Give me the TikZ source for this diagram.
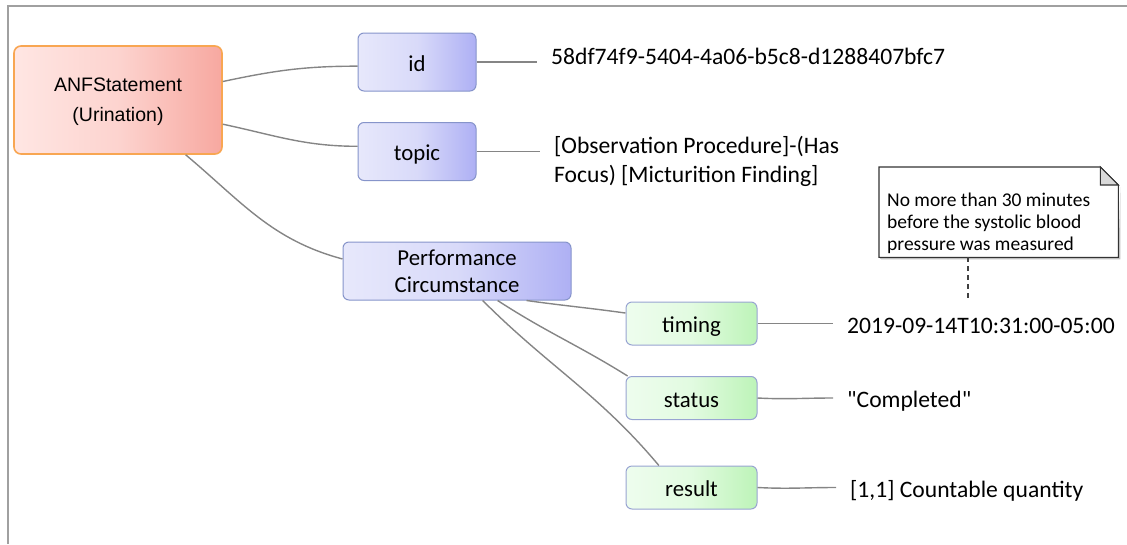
\documentclass[tikz,border=0pt]{standalone}
\usepackage{tikz}
\usepackage{fontspec}
\setmainfont{Carlito}
\newfontfamily\arialfont{Liberation Sans}
\newfontfamily\rawfont{Carlito}[Ligatures=TeXOff]
\usetikzlibrary{arrows.meta}
\definecolor{anfleft}{HTML}{FFE6E3}
\definecolor{anfright}{HTML}{F7A8A0}
\definecolor{anfedge}{HTML}{F8A652}
\definecolor{classleft}{HTML}{E7E8FB}
\definecolor{classright}{HTML}{AEB0F4}
\definecolor{classedge}{HTML}{8694CA}
\definecolor{attrleft}{HTML}{EEFDEE}
\definecolor{attrright}{HTML}{BDF4B8}
\definecolor{attredge}{HTML}{98A4D2}
\definecolor{linkgray}{HTML}{858585}
\definecolor{framegray}{HTML}{A0A0A0}
\definecolor{foldgray}{HTML}{D9D9D9}

\begin{document}
\begin{tikzpicture}[x=1pt, y=1pt,
    anfbox/.style={rectangle, rounded corners=7pt, draw=anfedge, line width=1.6pt,
      left color=anfleft, right color=anfright, middle color=anfleft!70!anfright,
      minimum width=208pt, minimum height=108pt, align=center, text depth=0pt,
      font=\arialfont\fontsize{19.5}{30}\selectfont},
    classbox/.style={rectangle, rounded corners=6pt, draw=classedge, line width=1pt,
      left color=classleft, right color=classright, middle color=classleft!75!classright,
      minimum height=58pt, align=center, font=\fontsize{22.8}{27}\selectfont},
    attrbox/.style={rectangle, rounded corners=6pt, draw=attredge, line width=1pt,
      left color=attrleft, right color=attrright, middle color=attrleft!75!attrright,
      minimum width=131pt, minimum height=43pt, oneline, font=\fontsize{22.8}{27}\selectfont},
    oneline/.style={text height=18pt, text depth=0pt},
    valtext/.style={anchor=base west, inner xsep=14pt, inner ysep=0pt, align=left,
      font=\fontsize{23.6}{29}\selectfont},
    notebox/.style={rectangle, minimum width=239pt, minimum height=90pt, inner sep=0pt},
    notetext/.style={anchor=base west, inner sep=0pt, align=left,
      font=\fontsize{19.5}{21.7}\selectfont},
    noteedge/.style={draw=black!80, line width=1.1pt},
    link/.style={draw=linkgray, line width=1.4pt},
    notelink/.style={draw=black!75, line width=1.2pt, dash pattern=on 5pt off 4pt}]

  \useasboundingbox (0,0) rectangle (1127,-544);
  \draw[framegray, line width=2pt] (8,-544) -- (8,-5.5) -- (1127,-5.5);

  \node[anfbox] (anf) at (118,-100) {ANFStatement\\(Urination)};

  \node[classbox, oneline, minimum width=118pt] (id) at (417,-62) {id};
  \node[classbox, oneline, minimum width=118pt] (topic) at (417,-151.5) {topic};
  \node[classbox, minimum width=228pt] (pc) at (457,-271) {Performance\\Circumstance};

  \node[attrbox] (timing) at (691.5,-323.5) {timing};
  \node[attrbox] (status) at (691.5,-398) {status};
  \node[attrbox] (result) at (691.5,-487.5) {result};

  \node[valtext] (idval) at (537,-64) {58df74f9-5404-4a06-b5c8-d1288407bfc7};
  \node[valtext] (topicval) at (540,-182) {[Observation Procedure]-(Has\\Focus) [Micturition Finding]};
  \node[valtext] (timingval) at (833,-333) {2019-09-14T10:31:00-05:00};
  \node[valtext] (statusval) at (833,-407) {\rawfont "Completed"};
  \node[valtext] (resultval) at (836,-497) {[1,1] Countable quantity};

  \draw[link] (anf.10) to[out=12, in=180] (id.184);
  \draw[link] (anf.-13) to[out=-12, in=180] (topic.175);
  \draw[link] (anf.-39) to[out=-40, in=165] (pc.174);
  \draw[link] (id.east) -- (id.east -| idval.west);
  \draw[link] (topic.east) -- (topic.east -| topicval.west);

  \draw[link] (pc.-23) to[out=-8, in=172] (timing.171);
  \draw[link] (pc.-36) to[out=-33, in=148] (status.161);
  \draw[link] (pc.-49) to[out=-45, in=130] (result.146);
  \draw[link] (timing.east) -- (timing.east -| timingval.west);
  \draw[link] (status.east) to[out=-3, in=180] (status.east -| statusval.west);
  \draw[link] (result.east) to[out=-3, in=180] (result.east -| resultval.west);

  \node[notebox, anchor=north west] (note) at (879,-167) {};
  \fill[black!25] ([shift={(2pt,-2pt)}]note.north east) ++(0,-18) -- ([shift={(2pt,-2pt)}]note.south east)
    -- ([shift={(2pt,-2pt)}]note.south west) -- (note.south west) -- (note.south east) -- cycle;
  \draw[noteedge, fill=white] (note.north west) -- ([xshift=-18pt]note.north east)
    -- ([yshift=-18pt]note.north east) -- (note.south east) -- (note.south west) -- cycle;
  \draw[noteedge, fill=foldgray] ([xshift=-18pt]note.north east) -- ([shift={(-18pt,-18pt)}]note.north east)
    -- ([yshift=-18pt]note.north east) -- cycle;
  \node[notetext] (notetxt) at ([shift={(8pt,-83pt)}]note.north west)
    {No more than 30 minutes\\before the systolic blood\\pressure was measured};
  \coordinate (notetip) at (968,-302);
  \draw[notelink] (note.south -| notetip) -- (notetip);
\end{tikzpicture}
\end{document}
